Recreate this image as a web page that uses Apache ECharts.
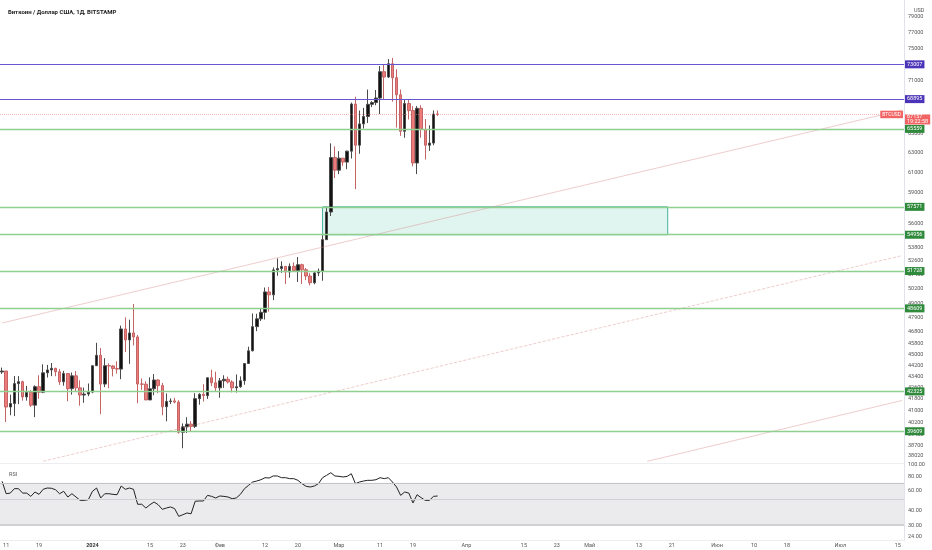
<!DOCTYPE html>
<html><head><meta charset="utf-8">
<script src="https://cdn.jsdelivr.net/npm/echarts@6/dist/echarts.min.js"></script>
<style>html,body{margin:0;padding:0;background:#fff}#c{width:932px;height:550px}</style>
</head><body><div id="c"></div>
<script>
// ---- data ----
const startDate = '2023-12-10';
const endDate = '2024-07-16';
// daily candles from 2023-12-10: [open, high, low, close]
const ohlc = [
[43720,44040,43580,43790],[43790,43800,40220,41240],[41240,42100,40680,41480],[41480,43430,40620,42880],
[42880,43420,41440,43020],[43020,43090,41680,41940],[41940,42720,41680,42270],[42270,42420,41250,41370],
[41370,42760,40550,42660],[42660,43480,41810,42270],[42270,44280,42200,43660],[43660,44240,43320,43870],
[43870,44380,43420,43990],[43990,44020,43410,43740],[43740,43940,42790,43010],[43010,43800,42730,43610],
[43610,43620,41640,42520],[42520,43680,42100,43440],[43440,43790,42290,42580],[42580,43120,41330,42070],
[42070,42600,41530,42140],[42140,42890,41990,42280],
[42280,44180,42200,44180],[44180,45900,44170,44950],[44950,45500,40750,42850],[42850,44740,42630,44180],
[44180,44350,42550,44160],[44160,44210,43400,43970],[43970,44500,43600,43930],[43930,47230,43200,46970],
[46970,47890,45200,46120],[46120,47700,44320,46660],[46660,48970,45700,46350],[46350,46500,41500,42850],
[42850,43250,42440,42840],[42840,43050,41730,41730],[41730,43330,41720,42510],[42510,43570,42060,43140],
[43140,43200,42200,42740],[42740,42930,40680,41260],[41260,42180,40270,41620],[41620,41840,41450,41660],
[41660,41880,41490,41580],[41580,41710,39450,39540],[39540,40130,38500,39900],[39900,40540,39490,40080],
[40080,40280,39560,39930],[39930,42200,39820,41820],[41820,42200,41400,42120],[42120,42840,41620,42030],
[42030,43310,41800,43300],[43300,43880,42700,42940],[42940,43740,42300,42580],
[42580,43290,41880,43080],[43080,43480,42580,43190],[43190,43380,42890,43000],[43000,43120,42260,42580],
[42580,43540,42250,42660],[42660,43400,42580,43090],[43090,44370,42800,44340],[44340,45600,44340,45290],
[45290,48200,45250,47150],[47150,48170,46800,47770],[47770,48580,47600,48290],[48290,50330,47720,49960],
[49960,50370,48350,49720],[49720,52040,49280,51830],[51830,52830,51320,51940],[51940,52570,51570,52130],
[52130,52170,50630,51650],[51650,52390,51160,52140],[52140,52480,51700,51780],[51780,52950,50800,52280],
[52280,52370,50630,51840],[51840,52000,50950,51300],[51300,51550,50500,50730],[50730,51680,50600,51570],
[51570,51950,51300,51730],[51730,54920,50900,54510],[54510,57580,54470,57080],[57080,64000,56700,62500],
[62500,63680,60400,61200],
[61200,63170,60800,62440],[62440,62440,61650,62030],[62030,63230,61300,63170],[63170,68500,62400,68330],
[68330,69170,59300,63800],[63800,67600,62900,66110],[66110,67900,65600,66930],[66930,70000,66200,68300],
[68300,68660,67980,68500],[68500,69950,68200,69020],[69020,72800,67200,72120],[72120,72950,68850,71480],
[71480,73650,71360,73080],[73080,73800,68600,71400],[71400,72400,65700,69400],[69400,70000,64800,65300],
[65300,68900,64600,68390],[68390,68900,66600,67590],[67590,68100,61600,61940],[61940,68100,60800,67850],
[67850,68200,64600,65500],[65500,66650,62300,63800],[63800,65950,63200,64030],[64030,67600,63800,67210],
[67210,67600,67000,67157]
];
// RSI values read per day from 2023-12-10
const rsi = [
72.2,56.3,57,62.3,62.3,57,57,53.4,58.3,55.6,
61.5,63.1,62.8,61,56.3,59.1,52.7,56.3,52.7,49.3,
49.3,50,59.1,63.1,51.7,56.3,56.3,55.6,55.2,65.7,
61.5,63.1,61.5,45.6,45.6,42.3,45.2,47.7,45.2,41.2,
42.3,43.2,41.8,35.8,37,38.3,37.7,48.4,48.7,48.7,
54.5,53.4,51.7,53.8,53.4,52.7,51,51.7,55.6,62.3,
66.6,71.2,72.6,74.5,77.6,77.1,80.3,80.3,77.6,77.6,
76.1,76.1,73.6,68.8,65.3,64.4,65.7,68.8,77.6,81.4,
85.7,80.3,79.7,78.7,79.7,84,68.8,71.2,72.6,73.6,
73.6,74.5,77.6,76.1,77.6,71.2,64.4,54.5,58.3,57,
46.8,55.2,52,49.3,49.3,53.4,53.8
];
const priceTicks = [79000,77000,75000,71000,65000,63000,61000,59000,56000,53800,52600,51400,50200,49000,47900,46800,45800,45000,44200,43400,42600,41800,41000,40200,39400,38700,38020];
const rsiTicks = [100,80,60,40,30,24];
const timeTicks = [
['2023-12-11','11'],['2023-12-19','19'],['2024-01-01','2024'],['2024-01-15','15'],['2024-01-23','23'],
['2024-02-01','Фев'],['2024-02-12','12'],['2024-02-20','20'],['2024-03-01','Мар'],['2024-03-11','11'],
['2024-03-19','19'],['2024-04-01','Апр'],['2024-04-15','15'],['2024-04-23','23'],['2024-05-01','Май'],
['2024-05-13','13'],['2024-05-21','21'],['2024-06-01','Июн'],['2024-06-10','10'],['2024-06-18','18'],
['2024-07-01','Июл'],['2024-07-15','15']
];
const purpleLevels = [73007, 68895];
const greenLevels = [65559, 57571, 54956, 51728, 48609, 42325, 39609];
const lastPrice = 67157;
const countdown = '19:22:58';
const zone = [['2024-02-26', 57571], ['2024-05-20', 54956]];
const trendLines = [
  [['2023-12-10', 47440], ['2024-07-16', 67650], 'solid'],
  [['2023-12-20', 37675], ['2024-07-16', 53080], 'dashed'],
  [['2024-05-15', 37670], ['2024-07-16', 41690], 'solid']
];
const rsiBand = [70, 50, 30];

// ---- build ----
const dates = [];
for (let t = Date.parse(startDate + 'T00:00:00Z'); t <= Date.parse(endDate + 'T00:00:00Z'); t += 86400000) {
  dates.push(new Date(t).toISOString().slice(0, 10));
}
const tickMap = {};
timeTicks.forEach(([d, l]) => tickMap[d] = l);
const candleData = dates.map((d, i) => i < ohlc.length ? [ohlc[i][0], ohlc[i][3], ohlc[i][2], ohlc[i][1]] : '-');
const rsiData = dates.map((d, i) => i < rsi.length ? rsi[i] : '-');

const FF = 'Roboto, "Liberation Sans", sans-serif';
const RED = '#f26464';
function lvlLabel(bg) {
  return {show: true, position: 'end', distance: 1, formatter: p => String(p.value),
    color: '#fff', backgroundColor: bg, padding: [1, 2, 1, 2], fontSize: 5.5, lineHeight: 6, fontFamily: FF};
}
const markLines = [];
markLines.push({yAxis: lastPrice, lineStyle: {color: 'rgba(236,120,120,0.55)', type: 'dotted', width: 1},
  label: {show: true, position: 'insideEnd', distance: 1, formatter: 'BTCUSD', color: '#fff',
    backgroundColor: RED, padding: [1, 2, 1, 2], fontSize: 5, lineHeight: 5.5, fontFamily: FF}});
trendLines.forEach(([a, b, type]) => {
  markLines.push([{coord: a, lineStyle: {color: 'rgba(215,140,140,0.55)', width: 0.8, type: type}, label: {show: false}}, {coord: b}]);
});
purpleLevels.forEach(v => markLines.push({yAxis: v, lineStyle: {color: '#6656d2', width: 1, type: 'solid'}, label: lvlLabel('#4c34b8')}));
greenLevels.forEach(v => markLines.push({yAxis: v, lineStyle: {color: '#8fd08f', width: 1.3, type: 'solid'}, label: lvlLabel('#2f8a3b')}));
markLines.push({yAxis: lastPrice, lineStyle: {color: 'rgba(0,0,0,0)', width: 1},
  label: {show: true, position: 'end', distance: 1, verticalAlign: 'top',
    formatter: '{v|' + lastPrice + '}\n{t|' + countdown + '}', color: '#fff', backgroundColor: RED,
    padding: [0, 2, 0, 2], fontFamily: FF,
    rich: {v: {fontSize: 5.5, lineHeight: 5, color: '#fff', fontFamily: FF}, t: {fontSize: 5.5, lineHeight: 5, color: '#fff', fontFamily: FF}}}});

const chart = echarts.init(document.getElementById('c'), null, {renderer: 'canvas'});
chart.setOption({
  animation: false,
  backgroundColor: '#fff',
  title: [
    {text: 'Биткоин / Доллар США, 1Д, BITSTAMP', left: 3, top: 4, textStyle: {fontSize: 6, fontWeight: 'bold', color: '#222', fontFamily: FF}},
    {text: 'USD', left: 909, top: 3, textStyle: {fontSize: 5.5, fontWeight: 'normal', color: '#555', fontFamily: FF}},
    {text: 'RSI', left: 4, top: 467, textStyle: {fontSize: 5.5, fontWeight: 'normal', color: '#555', fontFamily: FF}}
  ],
  grid: [
    {left: -2, top: 0, width: 906, height: 463},
    {left: -2, top: 463, width: 906, height: 77}
  ],
  xAxis: [
    {type: 'category', gridIndex: 0, data: dates, axisLabel: {show: false}, axisTick: {show: false},
      axisLine: {show: true, lineStyle: {color: '#eceef2'}}, splitLine: {show: false}},
    {type: 'category', gridIndex: 1, data: dates, axisTick: {show: false},
      axisLine: {show: true, lineStyle: {color: '#eceef2'}}, splitLine: {show: false},
      axisLabel: {interval: (i, v) => tickMap[v] !== undefined,
        formatter: v => tickMap[v] === '2024' ? '{b|2024}' : tickMap[v],
        fontSize: 5.5, color: '#555', margin: 3, fontFamily: FF,
        rich: {b: {fontSize: 5.5, fontWeight: 'bold', color: '#333', fontFamily: FF}}}}
  ],
  yAxis: [
    {type: 'log', logBase: 10, gridIndex: 0, position: 'right', min: 37566, max: 81271,
      axisLine: {show: true, lineStyle: {color: '#e0e3eb'}}, axisTick: {show: false}, splitLine: {show: false},
      axisLabel: {customValues: priceTicks, formatter: v => String(Math.round(v)), fontSize: 5.5, color: '#555', margin: 4, fontFamily: FF}},
    {type: 'log', logBase: 10, gridIndex: 1, position: 'right', min: 22.31, max: 104.08,
      axisLine: {show: true, lineStyle: {color: '#e0e3eb'}}, axisTick: {show: false}, splitLine: {show: false},
      axisLabel: {customValues: rsiTicks, formatter: v => Number(v).toFixed(2), fontSize: 5.5, color: '#555', margin: 4, fontFamily: FF}}
  ],
  series: [
    {type: 'candlestick', xAxisIndex: 0, yAxisIndex: 0, data: candleData, barWidth: 3,
      itemStyle: {color: '#131313', color0: '#ec7c7c', borderColor: '#4a4a4a', borderColor0: '#c46464', borderWidth: 1},
      markArea: {silent: true, itemStyle: {color: 'rgba(38,180,150,0.14)', borderColor: 'rgba(38,166,140,0.85)', borderWidth: 1},
        data: [[{coord: zone[0]}, {coord: zone[1]}]]},
      markLine: {silent: true, symbol: ['none', 'none'], animation: false, data: markLines}
    },
    {type: 'line', xAxisIndex: 1, yAxisIndex: 1, data: rsiData, showSymbol: false, lineStyle: {color: '#222', width: 1},
      markArea: {silent: true, itemStyle: {color: '#ebebee'}, data: [[{yAxis: rsiBand[0]}, {yAxis: rsiBand[2]}]]},
      markLine: {silent: true, symbol: ['none', 'none'], label: {show: false},
        data: [
          {yAxis: rsiBand[0], lineStyle: {color: '#c4c4ca', width: 1, type: 'solid'}},
          {yAxis: rsiBand[1], lineStyle: {color: '#d0d0d5', width: 1, type: 'solid'}},
          {yAxis: rsiBand[2], lineStyle: {color: '#cfcfd4', width: 2, type: 'solid'}}
        ]}
    }
  ]
});
</script></body></html>
